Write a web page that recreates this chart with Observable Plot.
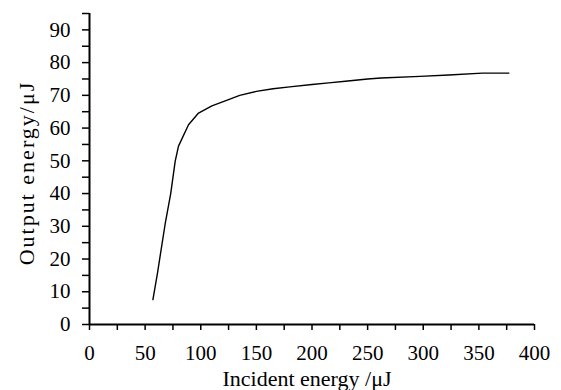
<!DOCTYPE html>
<html>
<head>
<meta charset="utf-8">
<script src="https://cdn.jsdelivr.net/npm/d3@7"></script>
<script src="https://cdn.jsdelivr.net/npm/@observablehq/plot@0.6"></script>
<style>
  html, body { margin: 0; padding: 0; background: #fff; }
  svg { display: block; }
  svg, svg text { font-family: 'Liberation Serif', 'Times New Roman', serif !important; font-variant-numeric: normal !important; }
</style>
</head>
<body>
<div id="chart"></div>
<script>
// Incident energy (µJ)
const incident = [57, 61, 68, 73, 77, 80, 89, 98, 110, 125, 135, 150, 165, 180, 200, 215, 230, 250, 262, 297, 323, 353, 377];
// Output energy (µJ)
const output = [7.6, 15.5, 30.7, 40, 49.8, 54.5, 61, 64.6, 66.8, 68.7, 70, 71.2, 72, 72.6, 73.3, 73.8, 74.3, 75, 75.3, 75.8, 76.2, 76.8, 76.8];
const xTicks = d3.range(0, 401, 25);
const yTicks = d3.range(0, 96, 5);
const xTitle = "Incident energy /\u03bcJ";
const yTitle = "Output energy/\u03bcJ";

const data = incident.map((x, i) => ({x, y: output[i]}));
const serif = "'Liberation Serif', 'Times New Roman', serif";

const chart = Plot.plot({
  width: 561,
  height: 390,
  marginLeft: 89,
  marginRight: 27,
  marginTop: 13,
  marginBottom: 66,
  style: {fontFamily: serif, fontSize: "21px", color: "#000", background: "#fff"},
  x: {domain: [0, 400]},
  y: {domain: [0, 95]},
  marks: [
    Plot.axisX({ticks: xTicks, tickSize: 6, tickPadding: 15, tickFormat: d => d % 50 === 0 ? d : "", label: null, strokeWidth: 1.5, fontSize: 21, fontFamily: serif}),
    Plot.axisY({ticks: yTicks, tickSize: 7, tickPadding: 12, tickFormat: d => d % 10 === 0 ? d : "", label: null, strokeWidth: 1.5, fontSize: 21, fontFamily: serif}),
    Plot.ruleX([0], {stroke: "#000", strokeWidth: 2}),
    Plot.ruleY([0], {stroke: "#000", strokeWidth: 2}),
    Plot.line(data, {x: "x", y: "y", stroke: "#000", strokeWidth: 1.4}),
    Plot.text([xTitle], {frameAnchor: "bottom", textAnchor: "middle", lineAnchor: "bottom", dx: -5, dy: 61, fontSize: 22, fontFamily: serif, fill: "#000"}),
    Plot.text([yTitle], {frameAnchor: "left", textAnchor: "middle", lineAnchor: "middle", rotate: -90, dx: -63, dy: 4, fontSize: 22, fontFamily: serif, fill: "#000"})
  ]
});
d3.select(chart).selectAll("text").filter(function() { return this.textContent === yTitle; }).style("letter-spacing", "2px");
document.getElementById("chart").append(chart);
</script>
</body>
</html>
